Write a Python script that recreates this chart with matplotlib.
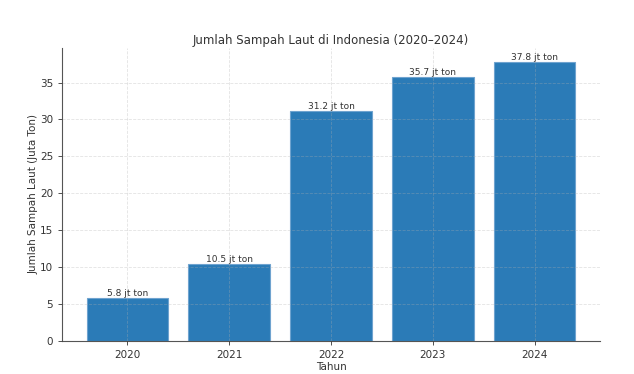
import matplotlib
matplotlib.use('Agg')
import matplotlib.pyplot as plt

years = ['2020', '2021', '2022', '2023', '2024']
sampah = [5.8, 10.5, 31.2, 35.7, 37.8]
labels = [f'{v} jt ton' for v in sampah]

fig = plt.figure(figsize=(6.34, 3.74), dpi=100)
ax = fig.add_axes([0.098, 0.088, 0.848, 0.784])

bars = ax.bar(years, sampah, width=0.8, color='#2b7bb7',
              edgecolor='#6fa3cf', linewidth=0.8)
for bar, lab in zip(bars, labels):
    ax.text(bar.get_x() + bar.get_width() / 2, bar.get_height(), lab,
            ha='center', va='bottom', fontsize=6.5, color='#333333')

ax.set_title('Jumlah Sampah Laut di Indonesia (2020–2024)',
             fontsize=8.5, color='#333333', pad=3)
ax.set_xlabel('Tahun', fontsize=7.5, color='#333333', labelpad=1)
ax.set_ylabel('Jumlah Sampah Laut (Juta Ton)', fontsize=7.5, color='#333333',
              labelpad=1)
ax.tick_params(labelsize=7.5, colors='#333333', length=3, width=0.6)
ax.grid(True, linestyle='--', alpha=0.35, linewidth=0.6)
ax.set_axisbelow(False)
ax.spines['top'].set_visible(False)
ax.spines['right'].set_visible(False)
for s in ['left', 'bottom']:
    ax.spines[s].set_color('#555555')
    ax.spines[s].set_linewidth(0.8)

fig.savefig('out.png', dpi=100)
plt.close(fig)
